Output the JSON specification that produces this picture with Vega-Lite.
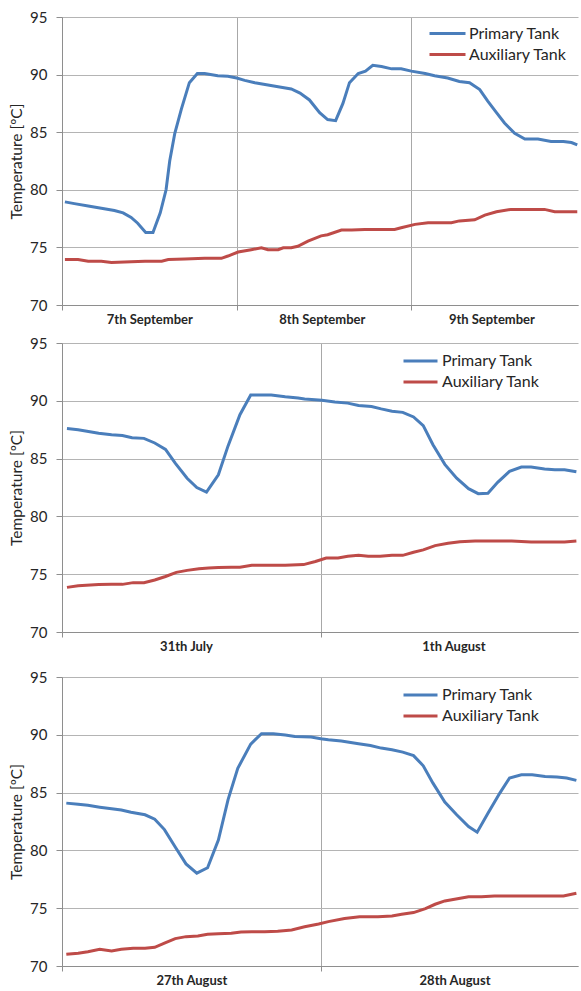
{
  "$schema": "https://vega.github.io/schema/vega-lite/v6.json",
  "padding": {"top": 10, "left": 9, "right": 0, "bottom": 0},
  "background": "white",
  "config": {
    "font": "Lato",
    "view": {"stroke": null},
    "axis": {
      "labelFont": "Lato", "titleFont": "Lato",
      "gridColor": "#b4b4b4", "domainColor": "#8e8e8e", "tickColor": "#8e8e8e",
      "labelColor": "#262626", "titleColor": "#262626"
    },
    "legend": {"labelFont": "Lato", "labelColor": "#262626"},
    "line": {"strokeWidth": 3}
  },
  "datasets": {
    "p1": [
      {"h":0.4,"t":78.95,"s":"Primary Tank"},{"h":1.7,"t":78.8,"s":"Primary Tank"},{"h":3.6,"t":78.6,"s":"Primary Tank"},{"h":5.4,"t":78.4,"s":"Primary Tank"},{"h":7.2,"t":78.2,"s":"Primary Tank"},{"h":8.4,"t":78.0,"s":"Primary Tank"},{"h":9.5,"t":77.6,"s":"Primary Tank"},{"h":10.4,"t":77.1,"s":"Primary Tank"},{"h":11.5,"t":76.3,"s":"Primary Tank"},{"h":12.5,"t":76.3,"s":"Primary Tank"},{"h":13.5,"t":78.0,"s":"Primary Tank"},{"h":14.3,"t":80.0,"s":"Primary Tank"},{"h":14.8,"t":82.5,"s":"Primary Tank"},{"h":15.5,"t":84.9,"s":"Primary Tank"},{"h":16.4,"t":87.0,"s":"Primary Tank"},{"h":17.5,"t":89.3,"s":"Primary Tank"},{"h":18.6,"t":90.1,"s":"Primary Tank"},{"h":19.6,"t":90.1,"s":"Primary Tank"},{"h":21.4,"t":89.9,"s":"Primary Tank"},{"h":22.8,"t":89.85,"s":"Primary Tank"},{"h":24.0,"t":89.7,"s":"Primary Tank"},{"h":25.1,"t":89.5,"s":"Primary Tank"},{"h":26.5,"t":89.3,"s":"Primary Tank"},{"h":28.3,"t":89.1,"s":"Primary Tank"},{"h":30.1,"t":88.9,"s":"Primary Tank"},{"h":31.5,"t":88.75,"s":"Primary Tank"},{"h":32.7,"t":88.4,"s":"Primary Tank"},{"h":34.0,"t":87.8,"s":"Primary Tank"},{"h":35.4,"t":86.7,"s":"Primary Tank"},{"h":36.5,"t":86.1,"s":"Primary Tank"},{"h":37.6,"t":86.0,"s":"Primary Tank"},{"h":38.6,"t":87.5,"s":"Primary Tank"},{"h":39.5,"t":89.3,"s":"Primary Tank"},{"h":40.7,"t":90.1,"s":"Primary Tank"},{"h":41.7,"t":90.3,"s":"Primary Tank"},{"h":42.7,"t":90.8,"s":"Primary Tank"},{"h":43.9,"t":90.7,"s":"Primary Tank"},{"h":45.3,"t":90.5,"s":"Primary Tank"},{"h":46.6,"t":90.5,"s":"Primary Tank"},{"h":48.0,"t":90.3,"s":"Primary Tank"},{"h":49.9,"t":90.1,"s":"Primary Tank"},{"h":51.2,"t":89.9,"s":"Primary Tank"},{"h":53.0,"t":89.7,"s":"Primary Tank"},{"h":54.6,"t":89.4,"s":"Primary Tank"},{"h":56.0,"t":89.3,"s":"Primary Tank"},{"h":57.4,"t":88.7,"s":"Primary Tank"},{"h":58.5,"t":87.7,"s":"Primary Tank"},{"h":59.7,"t":86.7,"s":"Primary Tank"},{"h":60.8,"t":85.8,"s":"Primary Tank"},{"h":62.2,"t":84.9,"s":"Primary Tank"},{"h":63.6,"t":84.4,"s":"Primary Tank"},{"h":65.4,"t":84.4,"s":"Primary Tank"},{"h":67.2,"t":84.2,"s":"Primary Tank"},{"h":68.9,"t":84.2,"s":"Primary Tank"},{"h":70.0,"t":84.1,"s":"Primary Tank"},{"h":70.8,"t":83.9,"s":"Primary Tank"},
      {"h":0.4,"t":73.95,"s":"Auxiliary Tank"},{"h":2.2,"t":73.95,"s":"Auxiliary Tank"},{"h":3.6,"t":73.8,"s":"Auxiliary Tank"},{"h":5.4,"t":73.8,"s":"Auxiliary Tank"},{"h":6.8,"t":73.7,"s":"Auxiliary Tank"},{"h":9.5,"t":73.75,"s":"Auxiliary Tank"},{"h":11.4,"t":73.8,"s":"Auxiliary Tank"},{"h":13.7,"t":73.8,"s":"Auxiliary Tank"},{"h":14.6,"t":73.95,"s":"Auxiliary Tank"},{"h":16.9,"t":74.0,"s":"Auxiliary Tank"},{"h":19.6,"t":74.05,"s":"Auxiliary Tank"},{"h":21.9,"t":74.05,"s":"Auxiliary Tank"},{"h":22.8,"t":74.25,"s":"Auxiliary Tank"},{"h":24.2,"t":74.6,"s":"Auxiliary Tank"},{"h":26.0,"t":74.8,"s":"Auxiliary Tank"},{"h":27.4,"t":74.97,"s":"Auxiliary Tank"},{"h":28.3,"t":74.8,"s":"Auxiliary Tank"},{"h":29.7,"t":74.8,"s":"Auxiliary Tank"},{"h":30.4,"t":74.97,"s":"Auxiliary Tank"},{"h":31.5,"t":74.97,"s":"Auxiliary Tank"},{"h":32.4,"t":75.1,"s":"Auxiliary Tank"},{"h":33.8,"t":75.55,"s":"Auxiliary Tank"},{"h":35.6,"t":76.0,"s":"Auxiliary Tank"},{"h":36.5,"t":76.1,"s":"Auxiliary Tank"},{"h":38.4,"t":76.5,"s":"Auxiliary Tank"},{"h":39.8,"t":76.5,"s":"Auxiliary Tank"},{"h":41.6,"t":76.55,"s":"Auxiliary Tank"},{"h":43.4,"t":76.55,"s":"Auxiliary Tank"},{"h":45.7,"t":76.55,"s":"Auxiliary Tank"},{"h":46.6,"t":76.7,"s":"Auxiliary Tank"},{"h":48.5,"t":77.0,"s":"Auxiliary Tank"},{"h":50.3,"t":77.14,"s":"Auxiliary Tank"},{"h":53.5,"t":77.14,"s":"Auxiliary Tank"},{"h":54.6,"t":77.3,"s":"Auxiliary Tank"},{"h":56.7,"t":77.4,"s":"Auxiliary Tank"},{"h":58.1,"t":77.8,"s":"Auxiliary Tank"},{"h":59.7,"t":78.1,"s":"Auxiliary Tank"},{"h":61.7,"t":78.3,"s":"Auxiliary Tank"},{"h":63.6,"t":78.3,"s":"Auxiliary Tank"},{"h":66.3,"t":78.3,"s":"Auxiliary Tank"},{"h":67.7,"t":78.1,"s":"Auxiliary Tank"},{"h":70.8,"t":78.1,"s":"Auxiliary Tank"}
    ],
    "p2": [
      {"h":0.46,"t":87.6,"s":"Primary Tank"},{"h":1.5,"t":87.5,"s":"Primary Tank"},{"h":3.4,"t":87.2,"s":"Primary Tank"},{"h":4.6,"t":87.07,"s":"Primary Tank"},{"h":5.6,"t":87.0,"s":"Primary Tank"},{"h":6.5,"t":86.8,"s":"Primary Tank"},{"h":7.6,"t":86.75,"s":"Primary Tank"},{"h":8.6,"t":86.35,"s":"Primary Tank"},{"h":9.6,"t":85.8,"s":"Primary Tank"},{"h":10.5,"t":84.6,"s":"Primary Tank"},{"h":11.6,"t":83.3,"s":"Primary Tank"},{"h":12.5,"t":82.5,"s":"Primary Tank"},{"h":13.4,"t":82.1,"s":"Primary Tank"},{"h":14.5,"t":83.6,"s":"Primary Tank"},{"h":15.4,"t":86.1,"s":"Primary Tank"},{"h":16.5,"t":88.8,"s":"Primary Tank"},{"h":17.5,"t":90.5,"s":"Primary Tank"},{"h":18.5,"t":90.5,"s":"Primary Tank"},{"h":19.4,"t":90.5,"s":"Primary Tank"},{"h":20.7,"t":90.35,"s":"Primary Tank"},{"h":21.9,"t":90.25,"s":"Primary Tank"},{"h":22.5,"t":90.16,"s":"Primary Tank"},{"h":24.1,"t":90.04,"s":"Primary Tank"},{"h":25.3,"t":89.9,"s":"Primary Tank"},{"h":26.5,"t":89.8,"s":"Primary Tank"},{"h":27.5,"t":89.6,"s":"Primary Tank"},{"h":28.7,"t":89.5,"s":"Primary Tank"},{"h":29.6,"t":89.3,"s":"Primary Tank"},{"h":30.6,"t":89.1,"s":"Primary Tank"},{"h":31.6,"t":89.0,"s":"Primary Tank"},{"h":32.6,"t":88.6,"s":"Primary Tank"},{"h":33.5,"t":87.85,"s":"Primary Tank"},{"h":34.4,"t":86.2,"s":"Primary Tank"},{"h":35.5,"t":84.5,"s":"Primary Tank"},{"h":36.6,"t":83.3,"s":"Primary Tank"},{"h":37.7,"t":82.4,"s":"Primary Tank"},{"h":38.6,"t":81.97,"s":"Primary Tank"},{"h":39.5,"t":82.0,"s":"Primary Tank"},{"h":40.4,"t":82.95,"s":"Primary Tank"},{"h":41.5,"t":83.9,"s":"Primary Tank"},{"h":42.6,"t":84.27,"s":"Primary Tank"},{"h":43.5,"t":84.27,"s":"Primary Tank"},{"h":44.75,"t":84.1,"s":"Primary Tank"},{"h":45.7,"t":84.04,"s":"Primary Tank"},{"h":46.6,"t":84.04,"s":"Primary Tank"},{"h":47.7,"t":83.87,"s":"Primary Tank"},
      {"h":0.46,"t":73.86,"s":"Auxiliary Tank"},{"h":1.5,"t":74.0,"s":"Auxiliary Tank"},{"h":3.4,"t":74.1,"s":"Auxiliary Tank"},{"h":4.6,"t":74.12,"s":"Auxiliary Tank"},{"h":5.6,"t":74.12,"s":"Auxiliary Tank"},{"h":6.6,"t":74.27,"s":"Auxiliary Tank"},{"h":7.6,"t":74.27,"s":"Auxiliary Tank"},{"h":8.6,"t":74.5,"s":"Auxiliary Tank"},{"h":9.6,"t":74.8,"s":"Auxiliary Tank"},{"h":10.6,"t":75.16,"s":"Auxiliary Tank"},{"h":11.6,"t":75.33,"s":"Auxiliary Tank"},{"h":12.7,"t":75.48,"s":"Auxiliary Tank"},{"h":13.6,"t":75.54,"s":"Auxiliary Tank"},{"h":14.5,"t":75.57,"s":"Auxiliary Tank"},{"h":15.7,"t":75.6,"s":"Auxiliary Tank"},{"h":16.5,"t":75.6,"s":"Auxiliary Tank"},{"h":17.6,"t":75.77,"s":"Auxiliary Tank"},{"h":18.8,"t":75.77,"s":"Auxiliary Tank"},{"h":20.7,"t":75.77,"s":"Auxiliary Tank"},{"h":22.4,"t":75.83,"s":"Auxiliary Tank"},{"h":23.5,"t":76.1,"s":"Auxiliary Tank"},{"h":24.5,"t":76.4,"s":"Auxiliary Tank"},{"h":25.6,"t":76.4,"s":"Auxiliary Tank"},{"h":26.5,"t":76.55,"s":"Auxiliary Tank"},{"h":27.5,"t":76.63,"s":"Auxiliary Tank"},{"h":28.4,"t":76.55,"s":"Auxiliary Tank"},{"h":29.5,"t":76.55,"s":"Auxiliary Tank"},{"h":30.6,"t":76.63,"s":"Auxiliary Tank"},{"h":31.6,"t":76.63,"s":"Auxiliary Tank"},{"h":32.6,"t":76.9,"s":"Auxiliary Tank"},{"h":33.5,"t":77.1,"s":"Auxiliary Tank"},{"h":34.6,"t":77.47,"s":"Auxiliary Tank"},{"h":35.8,"t":77.67,"s":"Auxiliary Tank"},{"h":36.9,"t":77.81,"s":"Auxiliary Tank"},{"h":38.3,"t":77.87,"s":"Auxiliary Tank"},{"h":39.8,"t":77.87,"s":"Auxiliary Tank"},{"h":41.7,"t":77.87,"s":"Auxiliary Tank"},{"h":43.5,"t":77.79,"s":"Auxiliary Tank"},{"h":44.75,"t":77.79,"s":"Auxiliary Tank"},{"h":46.6,"t":77.79,"s":"Auxiliary Tank"},{"h":47.7,"t":77.87,"s":"Auxiliary Tank"}
    ],
    "p3": [
      {"h":0.4,"t":84.09,"s":"Primary Tank"},{"h":1.5,"t":84.0,"s":"Primary Tank"},{"h":2.4,"t":83.9,"s":"Primary Tank"},{"h":3.5,"t":83.74,"s":"Primary Tank"},{"h":4.6,"t":83.6,"s":"Primary Tank"},{"h":5.5,"t":83.5,"s":"Primary Tank"},{"h":6.4,"t":83.3,"s":"Primary Tank"},{"h":7.7,"t":83.08,"s":"Primary Tank"},{"h":8.6,"t":82.7,"s":"Primary Tank"},{"h":9.5,"t":81.8,"s":"Primary Tank"},{"h":10.5,"t":80.3,"s":"Primary Tank"},{"h":11.5,"t":78.83,"s":"Primary Tank"},{"h":12.5,"t":78.03,"s":"Primary Tank"},{"h":13.5,"t":78.5,"s":"Primary Tank"},{"h":14.5,"t":80.9,"s":"Primary Tank"},{"h":15.4,"t":84.4,"s":"Primary Tank"},{"h":16.3,"t":87.1,"s":"Primary Tank"},{"h":17.5,"t":89.2,"s":"Primary Tank"},{"h":18.5,"t":90.1,"s":"Primary Tank"},{"h":19.6,"t":90.1,"s":"Primary Tank"},{"h":20.7,"t":89.98,"s":"Primary Tank"},{"h":21.6,"t":89.86,"s":"Primary Tank"},{"h":23.1,"t":89.8,"s":"Primary Tank"},{"h":24.0,"t":89.66,"s":"Primary Tank"},{"h":24.7,"t":89.57,"s":"Primary Tank"},{"h":25.9,"t":89.46,"s":"Primary Tank"},{"h":27.5,"t":89.23,"s":"Primary Tank"},{"h":28.6,"t":89.08,"s":"Primary Tank"},{"h":29.6,"t":88.85,"s":"Primary Tank"},{"h":30.6,"t":88.7,"s":"Primary Tank"},{"h":31.6,"t":88.5,"s":"Primary Tank"},{"h":32.6,"t":88.2,"s":"Primary Tank"},{"h":33.5,"t":87.32,"s":"Primary Tank"},{"h":34.4,"t":85.82,"s":"Primary Tank"},{"h":35.5,"t":84.18,"s":"Primary Tank"},{"h":36.6,"t":83.08,"s":"Primary Tank"},{"h":37.7,"t":82.07,"s":"Primary Tank"},{"h":38.5,"t":81.58,"s":"Primary Tank"},{"h":39.5,"t":83.22,"s":"Primary Tank"},{"h":40.6,"t":84.96,"s":"Primary Tank"},{"h":41.5,"t":86.26,"s":"Primary Tank"},{"h":42.6,"t":86.55,"s":"Primary Tank"},{"h":43.6,"t":86.55,"s":"Primary Tank"},{"h":44.8,"t":86.4,"s":"Primary Tank"},{"h":45.9,"t":86.35,"s":"Primary Tank"},{"h":46.8,"t":86.26,"s":"Primary Tank"},{"h":47.7,"t":86.06,"s":"Primary Tank"},
      {"h":0.4,"t":71.01,"s":"Auxiliary Tank"},{"h":1.5,"t":71.1,"s":"Auxiliary Tank"},{"h":2.4,"t":71.24,"s":"Auxiliary Tank"},{"h":3.5,"t":71.44,"s":"Auxiliary Tank"},{"h":4.6,"t":71.3,"s":"Auxiliary Tank"},{"h":5.5,"t":71.44,"s":"Auxiliary Tank"},{"h":6.6,"t":71.53,"s":"Auxiliary Tank"},{"h":7.7,"t":71.53,"s":"Auxiliary Tank"},{"h":8.6,"t":71.62,"s":"Auxiliary Tank"},{"h":9.5,"t":71.97,"s":"Auxiliary Tank"},{"h":10.5,"t":72.37,"s":"Auxiliary Tank"},{"h":11.5,"t":72.54,"s":"Auxiliary Tank"},{"h":12.6,"t":72.6,"s":"Auxiliary Tank"},{"h":13.5,"t":72.74,"s":"Auxiliary Tank"},{"h":14.5,"t":72.8,"s":"Auxiliary Tank"},{"h":15.7,"t":72.83,"s":"Auxiliary Tank"},{"h":16.6,"t":72.94,"s":"Auxiliary Tank"},{"h":17.6,"t":72.97,"s":"Auxiliary Tank"},{"h":18.8,"t":72.97,"s":"Auxiliary Tank"},{"h":20.0,"t":73.0,"s":"Auxiliary Tank"},{"h":21.3,"t":73.12,"s":"Auxiliary Tank"},{"h":22.5,"t":73.4,"s":"Auxiliary Tank"},{"h":23.8,"t":73.64,"s":"Auxiliary Tank"},{"h":24.7,"t":73.84,"s":"Auxiliary Tank"},{"h":26.2,"t":74.1,"s":"Auxiliary Tank"},{"h":27.6,"t":74.27,"s":"Auxiliary Tank"},{"h":29.3,"t":74.27,"s":"Auxiliary Tank"},{"h":30.6,"t":74.33,"s":"Auxiliary Tank"},{"h":31.5,"t":74.47,"s":"Auxiliary Tank"},{"h":32.6,"t":74.62,"s":"Auxiliary Tank"},{"h":33.7,"t":74.97,"s":"Auxiliary Tank"},{"h":34.6,"t":75.34,"s":"Auxiliary Tank"},{"h":35.5,"t":75.63,"s":"Auxiliary Tank"},{"h":36.8,"t":75.83,"s":"Auxiliary Tank"},{"h":37.7,"t":75.98,"s":"Auxiliary Tank"},{"h":38.9,"t":76.0,"s":"Auxiliary Tank"},{"h":40.1,"t":76.06,"s":"Auxiliary Tank"},{"h":41.7,"t":76.06,"s":"Auxiliary Tank"},{"h":43.2,"t":76.06,"s":"Auxiliary Tank"},{"h":44.8,"t":76.06,"s":"Auxiliary Tank"},{"h":46.5,"t":76.06,"s":"Auxiliary Tank"},{"h":47.7,"t":76.29,"s":"Auxiliary Tank"}
    ]
  },
  "resolve": {"scale": {"x": "independent", "y": "independent", "color": "independent"}},
  "spacing": 10,
  "vconcat": [
    {
      "width": 516, "height": 288,
      "data": {"name": "p1"},
      "mark": {"type": "line", "strokeWidth": 3},
      "encoding": {
        "x": {"field": "h", "type": "quantitative", "scale": {"domain": [0, 70.9], "nice": false, "zero": false},
          "axis": {"title": null, "values": [0, 12, 24, 35.7, 48, 59], "labelFlush": false, "labelOverlap": false,
            "labelExpr": "datum.value == 12 ? '7th September' : datum.value == 35.7 ? '8th September' : datum.value == 59 ? '9th September' : ''",
            "labelFontSize": 13, "labelFontWeight": "bold", "tickSize": 5, "labelPadding": 3,
            "grid": true, "gridColor": "#a8a8a8",
            "gridOpacity": {"condition": {"test": "datum.value % 24 == 0", "value": 1}, "value": 0},
            "tickOpacity": {"condition": {"test": "datum.value % 24 == 0", "value": 1}, "value": 0}}},
        "y": {"field": "t", "type": "quantitative", "scale": {"domain": [70, 95], "nice": false, "zero": false},
          "axis": {"title": "Temperature [ºC]", "values": [70, 75, 80, 85, 90, 95], "labelFontSize": 15, "tickSize": 6, "labelPadding": 9,
            "titleFontSize": 15.5, "titleFontWeight": "normal", "titlePadding": 5, "grid": true}},
        "color": {"field": "s", "type": "nominal",
          "scale": {"domain": ["Primary Tank", "Auxiliary Tank"], "range": ["#4a7ebb", "#be4b48"]},
          "legend": {"title": null, "orient": "none", "legendX": 366, "legendY": 6, "symbolType": "stroke", "symbolStrokeWidth": 3,
            "symbolSize": 1296, "clipHeight": 21, "labelFontSize": 16, "labelOffset": 2, "rowPadding": 0, "padding": 0}}
      }
    },
    {
      "width": 516, "height": 289,
      "data": {"name": "p2"},
      "mark": {"type": "line", "strokeWidth": 3},
      "encoding": {
        "x": {"field": "h", "type": "quantitative", "scale": {"domain": [0, 47.85], "nice": false, "zero": false},
          "axis": {"title": null, "values": [0, 11.5, 24, 36.3], "labelFlush": false, "labelOverlap": false,
            "labelExpr": "datum.value == 11.5 ? '31th July' : datum.value == 36.3 ? '1th August' : ''",
            "labelFontSize": 13, "labelFontWeight": "bold", "tickSize": 5, "labelPadding": 3,
            "grid": true, "gridColor": "#a8a8a8",
            "gridOpacity": {"condition": {"test": "datum.value % 24 == 0", "value": 1}, "value": 0},
            "tickOpacity": {"condition": {"test": "datum.value % 24 == 0", "value": 1}, "value": 0}}},
        "y": {"field": "t", "type": "quantitative", "scale": {"domain": [70, 95], "nice": false, "zero": false},
          "axis": {"title": "Temperature [ºC]", "values": [70, 75, 80, 85, 90, 95], "labelFontSize": 15, "tickSize": 6, "labelPadding": 9,
            "titleFontSize": 15.5, "titleFontWeight": "normal", "titlePadding": 5, "grid": true}},
        "color": {"field": "s", "type": "nominal",
          "scale": {"domain": ["Primary Tank", "Auxiliary Tank"], "range": ["#4a7ebb", "#be4b48"]},
          "legend": {"title": null, "orient": "none", "legendX": 340, "legendY": 7.5, "symbolType": "stroke", "symbolStrokeWidth": 3,
            "symbolSize": 1156, "clipHeight": 21, "labelFontSize": 16, "labelOffset": 3, "rowPadding": 0, "padding": 0}}
      }
    },
    {
      "width": 516, "height": 289,
      "title": {"text": " ", "fontSize": 1, "offset": 6},
      "data": {"name": "p3"},
      "mark": {"type": "line", "strokeWidth": 3},
      "encoding": {
        "x": {"field": "h", "type": "quantitative", "scale": {"domain": [0, 47.85], "nice": false, "zero": false},
          "axis": {"title": null, "values": [0, 12, 24, 36.4], "labelFlush": false, "labelOverlap": false,
            "labelExpr": "datum.value == 12 ? '27th August' : datum.value == 36.4 ? '28th August' : ''",
            "labelFontSize": 13, "labelFontWeight": "bold", "tickSize": 5, "labelPadding": 3,
            "grid": true, "gridColor": "#a8a8a8",
            "gridOpacity": {"condition": {"test": "datum.value % 24 == 0", "value": 1}, "value": 0},
            "tickOpacity": {"condition": {"test": "datum.value % 24 == 0", "value": 1}, "value": 0}}},
        "y": {"field": "t", "type": "quantitative", "scale": {"domain": [70, 95], "nice": false, "zero": false},
          "axis": {"title": "Temperature [ºC]", "values": [70, 75, 80, 85, 90, 95], "labelFontSize": 15, "tickSize": 6, "labelPadding": 9,
            "titleFontSize": 15.5, "titleFontWeight": "normal", "titlePadding": 5, "grid": true}},
        "color": {"field": "s", "type": "nominal",
          "scale": {"domain": ["Primary Tank", "Auxiliary Tank"], "range": ["#4a7ebb", "#be4b48"]},
          "legend": {"title": null, "orient": "none", "legendX": 340, "legendY": 7.5, "symbolType": "stroke", "symbolStrokeWidth": 3,
            "symbolSize": 1156, "clipHeight": 21, "labelFontSize": 16, "labelOffset": 3, "rowPadding": 0, "padding": 0}}
      }
    }
  ]
}
